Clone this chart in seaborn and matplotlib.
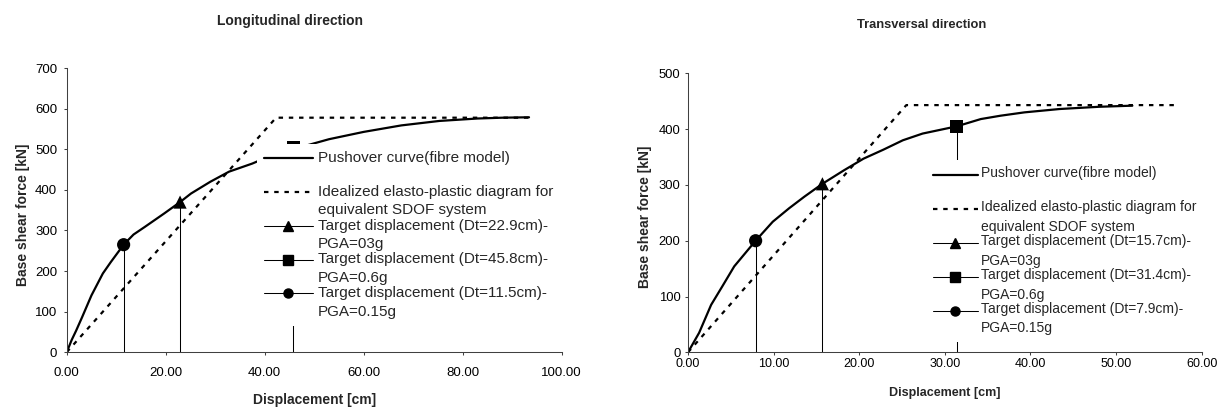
import numpy as np
import pandas as pd
import seaborn as sns
import matplotlib.pyplot as plt
from matplotlib.lines import Line2D
from matplotlib.legend_handler import HandlerLine2D

# ---- longitudinal direction ----
long_push_x = [0, 1.0, 1.9, 3.1, 5.0, 7.3, 8.9, 11.5, 13.5, 15.8, 19.7, 22.9, 25.1,
               29.0, 32.8, 37.5, 40.0, 44.0, 48.3, 53.0, 60.0, 67.6, 75.3, 83.0, 88.0, 93.4]
long_push_y = [0, 30, 53, 86, 140, 194, 222, 265, 290, 309, 342, 370, 391,
               420, 445, 465, 478, 494, 509, 525, 543, 559, 570, 576, 578, 579]
long_ideal_x = [0, 42.3, 93.5]
long_ideal_y = [0, 578, 578]
long_target_x = [22.9, 45.8, 11.5]
long_target_y = [370, 505, 265]
long_labels = ["Pushover curve(fibre model)\n",
               "Idealized elasto-plastic diagram for\nequivalent SDOF system",
               "Target displacement (Dt=22.9cm)-\nPGA=03g",
               "Target displacement (Dt=45.8cm)-\nPGA=0.6g",
               "Target displacement (Dt=11.5cm)-\nPGA=0.15g"]
long_xticks = [0, 20, 40, 60, 80, 100]
long_yticks = [0, 100, 200, 300, 400, 500, 600, 700]

# ---- transversal direction ----
trans_push_x = [0, 1.3, 2.7, 4.0, 5.4, 7.9, 9.9, 11.8, 13.6, 15.7, 18.2, 20.5, 22.8,
                25.1, 27.4, 31.4, 34.2, 36.5, 39.3, 43.4, 48.0, 51.9]
trans_push_y = [0, 35, 85, 118, 154, 200, 234, 258, 279, 302, 326, 347, 363,
                380, 392, 405, 418, 424, 430, 436, 440, 442]
trans_ideal_x = [0, 25.5, 57.1]
trans_ideal_y = [0, 443, 443]
trans_target_x = [15.7, 31.4, 7.9]
trans_target_y = [302, 405, 200]
trans_labels = ["Pushover curve(fibre model)\n",
                "Idealized elasto-plastic diagram for\nequivalent SDOF system",
                "Target displacement (Dt=15.7cm)-\nPGA=03g",
                "Target displacement (Dt=31.4cm)-\nPGA=0.6g",
                "Target displacement (Dt=7.9cm)-\nPGA=0.15g"]
trans_xticks = [0, 10, 20, 30, 40, 50, 60]
trans_yticks = [0, 100, 200, 300, 400, 500]

target_names = ["PGA=0.3g", "PGA=0.6g", "PGA=0.15g"]
target_markers = {"PGA=0.3g": "^", "PGA=0.6g": "s", "PGA=0.15g": "o"}

DOTS = (0, (2.0, 2.6))
AXCOL = "#404040"


class FirstLineHandler(HandlerLine2D):
    # excel puts the symbol next to the first line of a 2-line label
    def __init__(self, shift, **kw):
        super().__init__(**kw)
        self.shift = shift

    def create_artists(self, legend, orig_handle, xdescent, ydescent,
                       width, height, fontsize, trans):
        arts = super().create_artists(legend, orig_handle, xdescent, ydescent,
                                      width, height, fontsize, trans)
        for a in arts:
            a.set_ydata(np.asarray(a.get_ydata(), dtype=float) + self.shift)
        return arts


def panel(ax, push_x, push_y, ideal_x, ideal_y, tx, ty, labels, xticks, yticks, opt):
    push = pd.DataFrame({"d": push_x, "v": push_y})
    ideal = pd.DataFrame({"d": ideal_x, "v": ideal_y})
    sns.lineplot(data=push, x="d", y="v", sort=False, estimator=None,
                 color="black", lw=1.6, ax=ax)
    sns.lineplot(data=ideal, x="d", y="v", sort=False, estimator=None,
                 color="black", lw=1.6, linestyle=DOTS, ax=ax)
    ax.vlines(tx, 0, ty, color="black", lw=0.75)
    targets = pd.DataFrame({"d": tx, "v": ty, "t": target_names})
    sns.scatterplot(data=targets, x="d", y="v", style="t", markers=target_markers,
                    s=90, color="black", edgecolor="black", linewidth=0,
                    legend=False, ax=ax, zorder=3)

    ax.set_xlim(xticks[0], xticks[-1])
    ax.set_ylim(yticks[0], yticks[-1])
    ax.set_xticks(xticks)
    ax.set_xticklabels([f"{v:.2f}" for v in xticks])
    ax.set_yticks(yticks)
    ax.set_yticklabels([str(v) for v in yticks])
    sns.despine(ax=ax)
    for s in ["left", "bottom"]:
        ax.spines[s].set_color(AXCOL)
        ax.spines[s].set_linewidth(0.75)
    ax.tick_params(bottom=True, left=True, direction="out", length=2.4, width=0.75,
                   color=AXCOL, labelcolor="black")
    ax.tick_params(axis="x", labelsize=opt["xtick"], pad=opt["xpad"])
    ax.tick_params(axis="y", labelsize=opt["ytick"], pad=opt["ypad"])

    ax.set_xlabel("Displacement [cm]", fontsize=opt["xlab"], fontweight="bold")
    ax.set_ylabel("Base shear force [kN]", fontsize=10, fontweight="bold")
    ax.xaxis.set_label_coords(0.5, opt["xlab_y"])
    ax.yaxis.set_label_coords(opt["ylab_x"], 0.485)
    ax.set_title(opt["title"], fontsize=opt["tsize"], fontweight="bold",
                 x=opt["tx"], y=opt["ty"], va="center", pad=0)

    handles = [Line2D([], [], color="black", lw=1.6),
               Line2D([], [], color="black", lw=1.6, linestyle=DOTS),
               Line2D([], [], color="black", lw=0.75, marker="^", ms=6.5),
               Line2D([], [], color="black", lw=0.75, marker="s", ms=6.5),
               Line2D([], [], color="black", lw=0.75, marker="o", ms=6.5)]
    fs = opt["lsize"]
    ls = opt["lspace"]
    shift = 0.5 * (0.21 + 0.716 * ls) * fs
    leg = ax.legend(handles, labels, loc="upper left", bbox_to_anchor=opt["anchor"],
                    borderaxespad=0, frameon=True, fancybox=False, framealpha=1,
                    facecolor="white", edgecolor="none", shadow=False,
                    handlelength=3.2, handletextpad=opt["htp"],
                    labelspacing=opt["lblsp"], borderpad=0.45,
                    prop={"size": fs},
                    handler_map={Line2D: FirstLineHandler(shift)})
    for t in leg.get_texts():
        t.set_linespacing(ls)


sns.set_theme(style="white")
plt.rcParams["font.family"] = ["Liberation Sans", "DejaVu Sans"]

fig = plt.figure(figsize=(12.23, 4.11), dpi=100)
ax1 = fig.add_axes([0.05454, 0.14307, 0.40474, 0.69100])
ax2 = fig.add_axes([0.56255, 0.14282, 0.42003, 0.67883])

panel(ax1, long_push_x, long_push_y, long_ideal_x, long_ideal_y,
      long_target_x, long_target_y, long_labels, long_xticks, long_yticks,
      {"xtick": 9.5, "ytick": 9.5, "xpad": 8, "ypad": 4.5, "xlab": 10,
       "xlab_y": -0.144, "ylab_x": -0.074, "title": "Longitudinal direction",
       "tsize": 10, "tx": 0.451, "ty": 1.167, "lsize": 11, "lspace": 1.42,
       "lblsp": 0.08, "htp": 0.33, "anchor": (0.3845, 0.733)})
panel(ax2, trans_push_x, trans_push_y, trans_ideal_x, trans_ideal_y,
      trans_target_x, trans_target_y, trans_labels, trans_xticks, trans_yticks,
      {"xtick": 9, "ytick": 9.4, "xpad": 1.5, "ypad": 3, "xlab": 9,
       "xlab_y": -0.124, "ylab_x": -0.070, "title": "Transversal direction",
       "tsize": 9.3, "tx": 0.455, "ty": 1.173, "lsize": 10, "lspace": 1.48,
       "lblsp": 0.05, "htp": 0.24, "anchor": (0.4653, 0.689)})

fig.savefig("out.png", dpi=100, facecolor="white")
